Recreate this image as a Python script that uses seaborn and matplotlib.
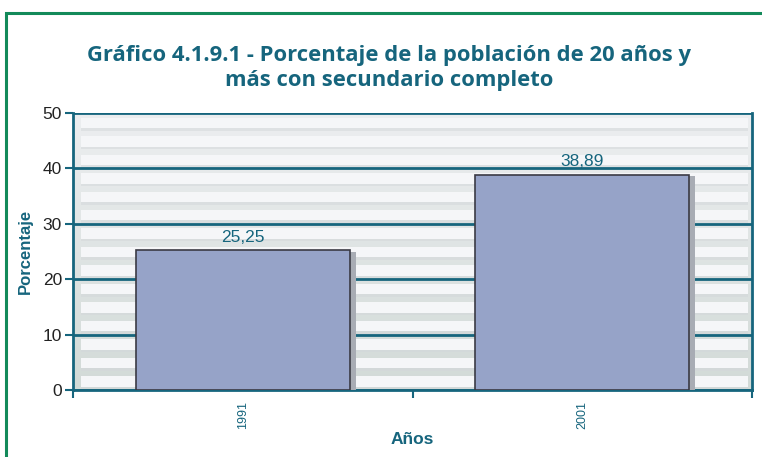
import matplotlib
matplotlib.use("Agg")
import matplotlib.pyplot as plt
import matplotlib.patheffects as pe
from matplotlib.patches import Rectangle
import numpy as np
import seaborn as sns
import pandas as pd

years = ["1991", "2001"]
values = [25.25, 38.89]
labels = ["25,25", "38,89"]

sns.set_style("white")
plt.rcParams['font.family'] = ['Liberation Sans', 'DejaVu Sans']

teal = "#16657d"
fig = plt.figure(figsize=(7.62, 4.57), dpi=100)
fig.patches.append(Rectangle((6/762, -0.1), 1.0, 1.1 - 13/457, transform=fig.transFigure,
                             fill=False, edgecolor="#138a5a", linewidth=2.2, zorder=0))
ax = fig.add_axes([73/762, 1 - 390/457, 679/762, 277/457])

# background gradient (greenish bottom, light top)
grad = np.linspace(0, 1, 100).reshape(-1, 1)
cmap = matplotlib.colors.LinearSegmentedColormap.from_list("bg", ["#d2dad7", "#eceef0"])
ax.imshow(grad, extent=(-0.5, 1.5, 0, 50), origin="lower", aspect="auto", cmap=cmap, zorder=0)

# striped background
for k in range(15):
    y0 = 0.6 + k * 3.333
    ax.axhspan(y0, y0 + 1.9, xmin=0.012, xmax=0.994, color="#f5f6f8", zorder=0.1, lw=0)
    ax.axhspan(y0 - 0.45, y0, xmin=0.012, xmax=0.994, color="#d3d7da", alpha=0.5, zorder=0.1, lw=0)

df = pd.DataFrame({"Año": years, "Porcentaje": values})
sns.barplot(data=df, x="Año", y="Porcentaje", color="#96a3c8", saturation=1,
            width=0.63, edgecolor="#3a3a44", linewidth=1.2, ax=ax, zorder=3)
for p in ax.containers[0]:
    p.set_path_effects([pe.SimplePatchShadow(offset=(4.5, -1), shadow_rgbFace="#a8acb4", alpha=1), pe.Normal()])

for i, (v, lab) in enumerate(zip(values, labels)):
    ax.text(i, v + 1.0, lab, ha="center", va="bottom", color=teal, fontsize=12.5)

ax.set_ylim(0, 50)
ax.set_xlim(-0.5, 1.5)
ax.set_yticks([0, 10, 20, 30, 40, 50])
ax.yaxis.grid(True, color=teal, linewidth=2)
ax.set_axisbelow(False)
for l in ax.get_ygridlines():
    l.set_zorder(2)
ax.tick_params(axis="y", length=6, width=1.5, color=teal, labelsize=12.5, labelcolor="#222222", pad=2, left=True)
ax.set_xticks([0, 1])
ax.set_xticklabels(years, rotation=90, color=teal, fontsize=9)
ax.tick_params(axis="x", length=0, pad=8)
ax.set_xticks([-0.5, 0.5, 1.5], minor=True)
ax.tick_params(axis="x", which="minor", length=6, width=1.5, color=teal, bottom=True)
for s in ["left", "bottom", "right"]:
    ax.spines[s].set_color(teal)
    ax.spines[s].set_linewidth(2)
ax.spines["top"].set_visible(False)

ax.set_ylabel("Porcentaje", color=teal, fontweight="bold", fontsize=12, labelpad=7)
ax.set_xlabel("Años", color=teal, fontweight="bold", fontsize=12.5, labelpad=2)

fig.text(389/762, 1 - 68/457, "Gráfico 4.1.9.1 - Porcentaje de la población de 20 años y\nmás con secundario completo",
         ha="center", va="center", color=teal, fontweight="bold", fontsize=15.8,
         family=["Open Sans", "DejaVu Sans"], linespacing=1.3)

fig.savefig("out.png", dpi=100)
